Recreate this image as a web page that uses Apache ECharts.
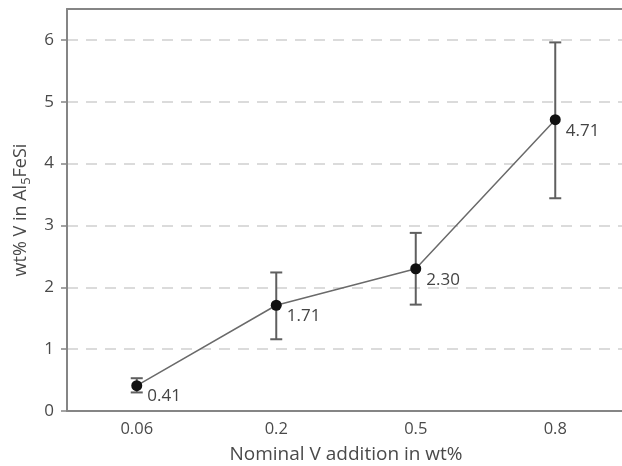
<!DOCTYPE html>
<html><head><meta charset="utf-8">
<script src="https://cdn.jsdelivr.net/npm/echarts@6/dist/echarts.min.js"></script>
<style>html,body{margin:0;padding:0;background:#fff;overflow:hidden}#c{width:622px;height:466px}</style>
</head><body><div id="c"></div>
<script>
const categories = ['0.06', '0.2', '0.5', '0.8'];
const values = [0.41, 1.71, 2.30, 4.71];
const errLow = [0.30, 1.16, 1.72, 3.44];
const errHigh = [0.53, 2.24, 2.88, 5.96];
const valueLabels = ['0.41', '1.71', '2.30', '4.71'];
const yTicks = [0, 1, 2, 3, 4, 5, 6];

const FONT = 'Open Sans';
const chart = echarts.init(document.getElementById('c'), null, {renderer: 'canvas'});
chart.setOption({
  animation: false,
  backgroundColor: '#fff',
  grid: {left: 67, top: 9, width: 558, height: 402, outerBoundsMode: 'none', containLabel: false},
  xAxis: [{
    type: 'category', data: categories, boundaryGap: true,
    axisLine: {lineStyle: {color: '#858585', width: 2}},
    axisTick: {alignWithLabel: true, length: 4, lineStyle: {color: '#858585', width: 1.5}},
    axisLabel: {color: '#4a4a4a', fontSize: 16.5, fontFamily: FONT, margin: 10},
    splitLine: {show: false},
    name: 'Nominal V addition in wt%', nameLocation: 'middle', nameGap: 34,
    nameTextStyle: {color: '#4a4a4a', fontSize: 19, fontFamily: FONT}
  }, {
    type: 'category', data: categories, position: 'top', z: 5,
    axisLine: {show: true, lineStyle: {color: '#858585', width: 2}},
    axisTick: {show: false}, axisLabel: {show: false}, splitLine: {show: false}
  }],
  yAxis: {
    type: 'value', min: 0, max: 6.5, interval: 1,
    axisLine: {show: true, lineStyle: {color: '#858585', width: 2}},
    axisTick: {show: true, length: 6, customValues: yTicks, lineStyle: {color: '#858585', width: 1.5}},
    axisLabel: {color: '#4a4a4a', fontSize: 17, fontFamily: FONT, margin: 13, customValues: yTicks},
    splitLine: {show: true, lineStyle: {color: '#cfcfcf', width: 1.5, type: [11, 8]}},
    name: 'wt% V in Al{sub|5}FeSi', nameLocation: 'middle', nameGap: 34, nameRotate: 90,
    nameTextStyle: {color: '#4a4a4a', fontSize: 18, fontFamily: FONT, lineHeight: 24,
      rich: {sub: {fontSize: 13, fontFamily: FONT, color: '#4a4a4a', lineHeight: 13, verticalAlign: 'bottom'}}}
  },
  series: [
    {
      type: 'custom', z: 1,
      data: categories.map((c, i) => [i, errLow[i], errHigh[i]]),
      renderItem: function (params, api) {
        const lo = api.coord([api.value(0), api.value(1)]);
        const hi = api.coord([api.value(0), api.value(2)]);
        const w = 6;
        const st = {stroke: '#5f5f5f', lineWidth: 2};
        return {type: 'group', children: [
          {type: 'line', shape: {x1: lo[0], y1: lo[1], x2: hi[0], y2: hi[1]}, style: st},
          {type: 'line', shape: {x1: lo[0] - w, y1: lo[1], x2: lo[0] + w, y2: lo[1]}, style: st},
          {type: 'line', shape: {x1: hi[0] - w, y1: hi[1], x2: hi[0] + w, y2: hi[1]}, style: st}
        ]};
      }
    },
    {
      type: 'line', z: 3, data: values,
      symbol: 'circle', symbolSize: 11,
      itemStyle: {color: '#111'},
      lineStyle: {color: '#6a6a6a', width: 1.5},
      label: {show: true, position: 'right', distance: 5, offset: [0, 11],
        formatter: p => valueLabels[p.dataIndex], color: '#444', fontSize: 17, fontFamily: FONT}
    }
  ]
});
</script></body></html>
